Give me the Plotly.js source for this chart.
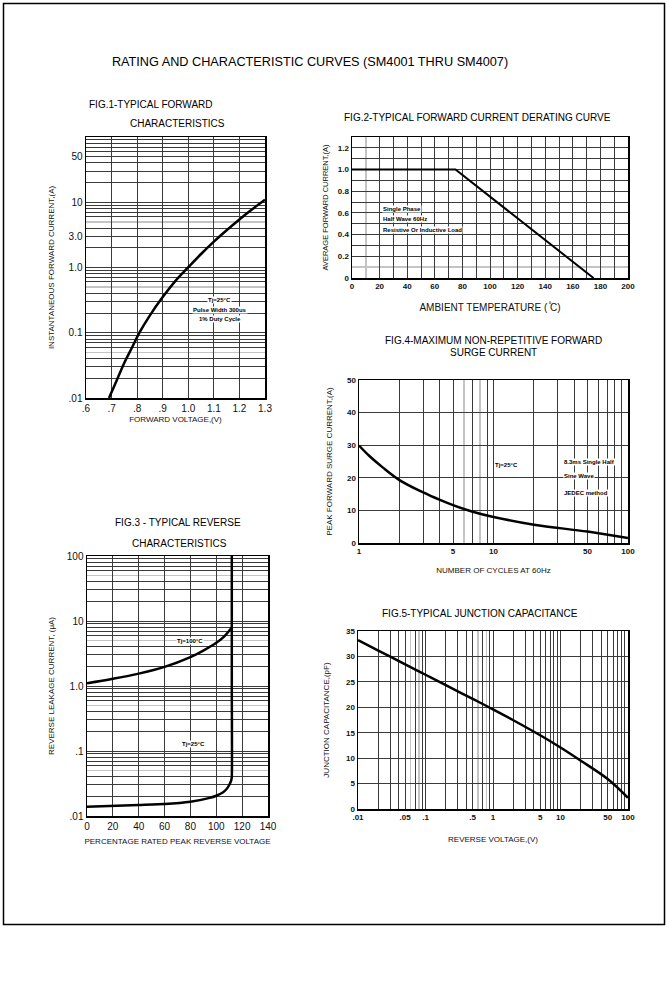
<!DOCTYPE html>
<html>
<head>
<meta charset="utf-8">
<script src="https://cdn.plot.ly/plotly-3.0.1.min.js"></script>
<style>html,body{margin:0;padding:0;background:#fff;}#chart{width:668px;height:988px;}</style>
</head>
<body>
<div id="chart"></div>
<script>
// ---------- DATA ----------
// Fig.1 typical forward characteristics (Tj=25°C)
const fig1Voltage = [0.69, 0.72, 0.75, 0.78, 0.81, 0.85, 0.9, 0.95, 1.0, 1.05, 1.1, 1.15, 1.2, 1.25, 1.3];
const fig1Current = [0.01, 0.0186, 0.0347, 0.0594, 0.102, 0.185, 0.352, 0.625, 1.01, 1.61, 2.49, 3.72, 5.45, 7.78, 10.9];
// Fig.2 derating curve
const fig2Temp = [0, 75, 175];
const fig2Current = [1.0, 1.0, 0];
// Fig.3 typical reverse characteristics
const fig3Pct100 = [0, 20, 40, 60, 80, 90, 100, 106, 112];
const fig3Leak100 = [1.10, 1.29, 1.55, 1.97, 2.79, 3.51, 4.62, 5.75, 7.94];
const fig3Pct25 = [0, 40, 60, 80, 95, 100, 105, 108, 110, 111.5, 112, 112, 112];
const fig3Leak25 = [0.0139, 0.0148, 0.0153, 0.0166, 0.019, 0.0205, 0.023, 0.026, 0.03, 0.035, 0.04, 1, 100];
// Fig.4 surge current
const fig4Cycles = [1, 1.2, 1.5, 2, 3, 4, 5, 7, 10, 20, 50, 100];
const fig4Surge = [29.9, 26.6, 23.2, 19.3, 15.5, 13.2, 11.6, 9.6, 8.0, 5.6, 3.5, 1.5];
// Fig.5 junction capacitance
const fig5Volt = [0.01, 0.02, 0.05, 0.1, 0.2, 0.5, 1, 2, 5, 10, 20, 50, 100];
const fig5Cap = [33.2, 31.15, 28.45, 26.4, 24.35, 21.65, 19.6, 17.45, 14.5, 12.1, 9.5, 5.9, 2.2];

// tick labels
const fig1XTicks = [0.6, 0.7, 0.8, 0.9, 1.0, 1.1, 1.2, 1.3];
const fig1XText = ['.6', '.7', '.8', '.9', '1.0', '1.1', '1.2', '1.3'];
const fig1YLabels = {0.01: '.01', 0.1: '0.1', 1: '1.0', 3: '3.0', 10: '10', 50: '50'};
const fig2YLabels = {0: '0', 0.2: '0.2', 0.4: '0.4', 0.6: '0.6', 0.8: '0.8', 1: '1.0', 1.2: '1.2'};
const fig3YLabels = {0.01: '.01', 0.1: '.1', 1: '1.0', 10: '10', 100: '100'};
const fig4XLabels = {1: '1', 5: '5', 10: '10', 50: '50', 100: '100'};
const fig5XLabels = {0.01: '.01', 0.05: '.05', 0.1: '.1', 0.5: '.5', 1: '1', 5: '5', 10: '10', 50: '50', 100: '100'};

// ---------- HELPERS ----------
const W = 668, H = 988;
const px = v => v / W;
const py = v => 1 - v / H;
function logGrid(lo, hi, skip) {
  const out = [];
  for (let e = lo; e < hi; e++) {
    for (let d = 1; d <= 9; d++) {
      const v = +(d * Math.pow(10, e)).toPrecision(3);
      if (!skip.includes(v)) out.push(v);
    }
  }
  out.push(Math.pow(10, hi));
  return out;
}
function linGrid(lo, hi, step, skip) {
  const out = [];
  for (let v = lo; v <= hi + 1e-9; v += step) {
    const r = +v.toFixed(4);
    if (!skip.includes(r)) out.push(r);
  }
  return out;
}
function labelsFor(vals, map) { return vals.map(v => (map[v] !== undefined ? map[v] : '')); }

const FONT = 'Liberation Sans, Arial, sans-serif';
const GRID = '#3a3a3a';
const LIGHT = '#c4c4c4';
const tickReg = {family: FONT, size: 10, color: '#111'};
const tickBold = {family: FONT, size: 8, color: '#111', weight: 'bold'};
const axTitle = {family: FONT, size: 8, color: '#111'};

function baseAxis(extra) {
  return Object.assign({
    showline: true, mirror: true, linecolor: '#000', linewidth: 1.5,
    showgrid: true, gridcolor: GRID, gridwidth: 1, zeroline: false,
    ticks: '', fixedrange: true, tickmode: 'array'
  }, extra);
}

// ---------- AXES ----------
const f1yVals = logGrid(-2, 2, [0.05, 0.5, 5]);
const f2xVals = linGrid(0, 200, 10, [10]);
const f2yVals = linGrid(0, 1.3, 0.1, [0.1]);
const f3yVals = logGrid(-2, 2, [0.05, 0.5, 5, 50]);
const f4xVals = logGrid(0, 2, [6, 8]);
const f5xVals = logGrid(-2, 2, [0.06, 0.08, 0.6, 0.8]);

const layout = {
  width: W, height: H,
  margin: {l: 0, r: 0, t: 0, b: 0},
  paper_bgcolor: '#fff', plot_bgcolor: '#fff',
  showlegend: false,
  title: {text: 'RATING AND CHARACTERISTIC CURVES (SM4001 THRU SM4007)',
    x: 310 / W, xanchor: 'center', y: py(62), yanchor: 'middle',
    font: {family: FONT, size: 12.7, color: '#000'}},
  // Fig 1
  xaxis: baseAxis({domain: [px(86), px(265)], anchor: 'y', range: [0.6, 1.3],
    tickvals: fig1XTicks, ticktext: fig1XText, tickfont: tickReg,
    title: {text: 'FORWARD VOLTAGE,(V)', font: axTitle, standoff: 4}}),
  yaxis: baseAxis({domain: [py(398), py(137)], anchor: 'x', type: 'log', range: [-2, 2],
    tickvals: f1yVals, ticktext: labelsFor(f1yVals, fig1YLabels), tickfont: tickReg,
    minor: {tickmode: 'array', tickvals: [0.05, 0.5, 5], showgrid: true, gridcolor: LIGHT, gridwidth: 1.5, ticks: ''},
    title: {text: 'INSTANTANEOUS FORWARD CURRENT,(A)', font: axTitle, standoff: 13}}),
  // Fig 2
  xaxis2: baseAxis({domain: [px(352), px(628)], anchor: 'y2', range: [0, 200],
    tickvals: f2xVals, ticktext: f2xVals.map(v => (v % 20 === 0 ? String(v) : '')), tickfont: tickBold,
    minor: {tickmode: 'array', tickvals: [10], showgrid: true, gridcolor: LIGHT, gridwidth: 1.5, ticks: ''},
    title: {text: 'AMBIENT TEMPERATURE ( ̊C)', font: {family: FONT, size: 10, color: '#111'}, standoff: 14}}),
  yaxis2: baseAxis({domain: [py(278), py(137)], anchor: 'x2', range: [0, 1.3],
    tickvals: f2yVals, ticktext: labelsFor(f2yVals, fig2YLabels), tickfont: tickBold,
    minor: {tickmode: 'array', tickvals: [0.1], showgrid: true, gridcolor: LIGHT, gridwidth: 1.5, ticks: ''},
    title: {text: 'AVERAGE FORWARD CURRENT,(A)', font: {family: FONT, size: 7.5, color: '#111'}, standoff: 8}}),
  // Fig 3
  xaxis3: baseAxis({domain: [px(87), px(268)], anchor: 'y3', range: [0, 140],
    tickvals: [0, 20, 40, 60, 80, 100, 120, 140], ticktext: ['0', '20', '40', '60', '80', '100', '120', '140'], tickfont: tickReg,
    title: {text: 'PERCENTAGE RATED PEAK REVERSE VOLTAGE', font: axTitle, standoff: 8}}),
  yaxis3: baseAxis({domain: [py(816), py(556)], anchor: 'x3', type: 'log', range: [-2, 2],
    tickvals: f3yVals, ticktext: labelsFor(f3yVals, fig3YLabels), tickfont: tickReg,
    minor: {tickmode: 'array', tickvals: [0.05, 0.5, 5, 50], showgrid: true, gridcolor: LIGHT, gridwidth: 1.5, ticks: ''},
    title: {text: 'REVERSE LEAKAGE CURRENT, (μA)', font: axTitle, standoff: 11}}),
  // Fig 4
  xaxis4: baseAxis({domain: [px(359), px(628)], anchor: 'y4', type: 'log', range: [0, 2],
    tickvals: f4xVals, ticktext: labelsFor(f4xVals, fig4XLabels), tickfont: tickBold,
    minor: {tickmode: 'array', tickvals: [6, 8], showgrid: true, gridcolor: LIGHT, gridwidth: 2, ticks: ''},
    title: {text: 'NUMBER OF CYCLES AT 60Hz', font: axTitle, standoff: 12}}),
  yaxis4: baseAxis({domain: [py(543), py(380)], anchor: 'x4', range: [0, 50],
    tickvals: [0, 10, 20, 30, 40, 50], ticktext: ['0', '10', '20', '30', '40', '50'], tickfont: tickBold,
    title: {text: 'PEAK FORWARD SURGE CURRENT,(A)', font: axTitle, standoff: 13}}),
  // Fig 5
  xaxis5: baseAxis({domain: [px(358), px(628)], anchor: 'y5', type: 'log', range: [-2, 2],
    tickvals: f5xVals, ticktext: labelsFor(f5xVals, fig5XLabels), tickfont: tickBold,
    minor: {tickmode: 'array', tickvals: [0.06, 0.08, 0.6, 0.8], showgrid: true, gridcolor: LIGHT, gridwidth: 1.5, ticks: ''},
    title: {text: 'REVERSE VOLTAGE,(V)', font: axTitle, standoff: 15}}),
  yaxis5: baseAxis({domain: [py(809), py(631)], anchor: 'x5', range: [0, 35],
    tickvals: [0, 5, 10, 15, 20, 25, 30, 35], ticktext: ['0', '5', '10', '15', '20', '25', '30', '35'], tickfont: tickBold,
    title: {text: 'JUNCTION CAPACITANCE,(pF)', font: axTitle, standoff: 15}}),
  shapes: [
    {type: 'rect', xref: 'paper', yref: 'paper', x0: px(3.5), x1: px(664.5), y0: py(924.5), y1: py(3.5),
      line: {color: '#000', width: 1.5}, fillcolor: 'rgba(0,0,0,0)', layer: 'above'}
  ],
  annotations: []
};

const figTitleFont = {family: FONT, size: 10, color: '#000'};
function ptext(text, x, y, anchor) {
  layout.annotations.push({xref: 'paper', yref: 'paper', x: px(x), y: py(y), text: text, showarrow: false,
    xanchor: anchor || 'left', yanchor: 'middle', font: figTitleFont});
}
ptext('FIG.1-TYPICAL FORWARD', 87, 104);
ptext('CHARACTERISTICS', 128, 124);
ptext('FIG.2-TYPICAL FORWARD CURRENT DERATING CURVE', 342, 118);
ptext('FIG.3 - TYPICAL REVERSE', 113, 522);
ptext('CHARACTERISTICS', 130, 543);
ptext('FIG.4-MAXIMUM NON-REPETITIVE FORWARD', 493, 341, 'center');
ptext('SURGE CURRENT', 493, 353, 'center');
ptext('FIG.5-TYPICAL JUNCTION CAPACITANCE', 480, 613, 'center');

const noteFont = {family: FONT, size: 6, color: '#000', weight: 'bold'};
function note(xr, yr, x, y, text, anchor, bg) {
  layout.annotations.push({xref: xr, yref: yr, x: x, y: y, text: text, showarrow: false,
    xanchor: anchor || 'center', yanchor: 'middle', font: noteFont, bgcolor: bg || 'rgba(0,0,0,0)', borderpad: 0});
}
// fig1 notes
note('x', 'y', 1.124, Math.log10(0.32), 'Tj=25°C', 'center', '#fff');
note('x', 'y', 1.124, Math.log10(0.22), 'Pulse Width 300us', 'center', '#fff');
note('x', 'y', 1.124, Math.log10(0.165), '1% Duty Cycle', 'center', '#fff');
// fig2 notes
note('x2', 'y2', 22, 0.64, 'Single Phase', 'left', '#fff');
note('x2', 'y2', 22, 0.54, 'Half Wave 60Hz', 'left', '#fff');
note('x2', 'y2', 22, 0.44, 'Resistive Or Inductive Load', 'left', '#fff');
// fig3 notes
note('x3', 'y3', 80, Math.log10(4.9), 'Tj=100°C', 'center', '#fff');
note('x3', 'y3', 82, Math.log10(0.13), 'Tj=25°C', 'center', '#fff');
// fig4 notes
note('x4', 'y4', Math.log10(12.5), 24, 'Tj=25°C', 'center', '#fff');
note('x4', 'y4', Math.log10(33), 24.8, '8.3ms Single Half', 'left', '#fff');
note('x4', 'y4', Math.log10(33), 20.5, 'Sine Wave', 'left', '#fff');
note('x4', 'y4', Math.log10(33), 15.4, 'JEDEC method', 'left', '#fff');

const lineStyle = {color: '#000', width: 2.5};
const traces = [
  {x: fig1Voltage, y: fig1Current, xaxis: 'x', yaxis: 'y', mode: 'lines', line: Object.assign({shape: 'spline', smoothing: 1}, lineStyle)},
  {x: fig2Temp, y: fig2Current, xaxis: 'x2', yaxis: 'y2', mode: 'lines', line: {color: '#000', width: 2}},
  {x: fig3Pct100, y: fig3Leak100, xaxis: 'x3', yaxis: 'y3', mode: 'lines', line: Object.assign({shape: 'spline', smoothing: 1}, lineStyle)},
  {x: fig3Pct25, y: fig3Leak25, xaxis: 'x3', yaxis: 'y3', mode: 'lines', line: Object.assign({shape: 'spline', smoothing: 0.5}, lineStyle)},
  {x: fig4Cycles, y: fig4Surge, xaxis: 'x4', yaxis: 'y4', mode: 'lines', line: Object.assign({shape: 'spline', smoothing: 1}, lineStyle)},
  {x: fig5Volt, y: fig5Cap, xaxis: 'x5', yaxis: 'y5', mode: 'lines', line: Object.assign({shape: 'spline', smoothing: 1}, lineStyle)}
];

Plotly.newPlot('chart', traces, layout, {staticPlot: true, displayModeBar: false});
</script>
</body>
</html>
